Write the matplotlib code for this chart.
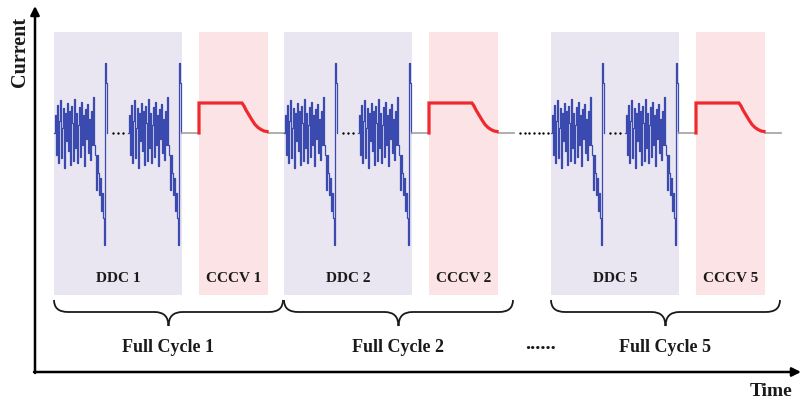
import matplotlib
matplotlib.use("Agg")
import matplotlib.pyplot as plt
import numpy as np
from matplotlib.path import Path
from matplotlib.patches import PathPatch, Rectangle

plt.rcParams['font.family'] = ['Liberation Serif', 'DejaVu Serif']
plt.rcParams['font.weight'] = 'bold'

# one dynamic drive burst: current per time step (each DDC phase holds two of them)
ddc_burst = [0, 18, -22, 28, -30, 12, 33, -25, 5, 25, -35, 20, -8, 30, -18, 22, -32, 27, 10,
             -28, 34, -15, 20, -30, 8, 26, -24, 31, -12, 18, -33, 24, -6, 29, -20, 14, -27, 22,
             -12, 36, -12, -22, -57, -22, -40, -62, -45, -78, -60, -85, -112, 70, 50, 0]
# CCCV charge: time from phase start, current
cccv_t = [0, 0, 43, 45, 47, 50, 53, 56, 59, 62, 65, 68]
cccv_i = [0, 30, 30, 27, 23, 18, 13, 8.5, 5.5, 3.5, 2, 1.5]

cycle_names = ["1", "2", "5"]
cycle_start = [54, 284, 551]
ddc_len = 128
rest1 = 17
cccv_len = 69
rest2 = 16
burst_gap = 21

blue = '#3a4aae'
red = '#ee2a2e'
gray = '#a8a8a8'
lav = '#e9e5f1'
pink = '#fce3e6'
txt = '#1a1a1a'

fig = plt.figure(figsize=(8.04, 4.0), dpi=100)
ax = fig.add_axes([0, 0, 1, 1])
ax.set_xlim(0, 804)
ax.set_ylim(-267, 133)
ax.set_axis_off()

shade_lo, shade_hi = -162, 101
cycle_len = ddc_len + rest1 + cccv_len + rest2
nb = len(ddc_burst) - 1


def brace(x0, x1, top, mid, tip, r=14):
    xc = (x0 + x1) / 2
    verts = [(x0, top), (x0, mid), (x0 + r, mid),
             (xc - r, mid), (xc, mid), (xc, tip),
             (xc, mid), (xc + r, mid),
             (x1 - r, mid), (x1, mid), (x1, top)]
    codes = [Path.MOVETO, Path.CURVE3, Path.CURVE3,
             Path.LINETO, Path.CURVE3, Path.CURVE3,
             Path.CURVE3, Path.CURVE3,
             Path.LINETO, Path.CURVE3, Path.CURVE3]
    ax.add_patch(PathPatch(Path(verts, codes), fill=False, lw=1.3, color=txt))


for name, t0 in zip(cycle_names, cycle_start):
    tc = t0 + ddc_len + rest1
    ax.add_patch(Rectangle((t0, shade_lo), ddc_len, shade_hi - shade_lo, color=lav, lw=0, zorder=0))
    ax.add_patch(Rectangle((tc, shade_lo), cccv_len, shade_hi - shade_lo, color=pink, lw=0, zorder=0))

    # two bursts with dots between
    b1 = t0
    b2 = t0 + nb + burst_gap
    for b in (b1, b2):
        ax.step(b + np.arange(len(ddc_burst)), ddc_burst, where='post', color=blue, lw=0.9)
    dots = np.arange(b1 + nb + 6, b2 - 3, 5)
    ax.plot(dots, np.zeros(len(dots)), 'o', color='black', ms=1.7, mew=0)

    # rest periods
    ax.plot([t0 + ddc_len, tc], [0, 0], color=gray, lw=1.3)
    ax.plot([tc + cccv_len, t0 + cycle_len], [0, 0], color=gray, lw=1.3)
    ax.plot(tc + np.array(cccv_t), cccv_i, color=red, lw=2.3, solid_joinstyle='miter')

    ax.text(t0 + ddc_len / 2, -146, f"DDC {name}", ha='center', va='center', fontsize=11, color=txt)
    ax.text(tc + cccv_len / 2, -146, f"CCCV {name}", ha='center', va='center', fontsize=11, color=txt)
    brace(t0, t0 + cycle_len - 1, -167, -179, -193)
    ax.text(t0 + (cycle_len - 1) / 2, -214, f"Full Cycle {name}", ha='center', va='center',
            fontsize=13, color=txt)

# skipped cycles
g0 = cycle_start[1] + cycle_len
g1 = cycle_start[2]
gdots = np.linspace(g0 + 6, g1 - 3, 7)
ax.plot(gdots, np.zeros(len(gdots)), 'o', color='black', ms=1.7, mew=0)
ax.text((g0 + g1) / 2 + 8, -216, "......", ha='center', va='baseline', fontsize=15, color=txt)

# axes arrows
ax.annotate('', xy=(801, -239), xytext=(34, -239),
            arrowprops=dict(arrowstyle='-|>', lw=1.8, color='black', mutation_scale=13, shrinkA=0, shrinkB=0))
ax.annotate('', xy=(35, 127), xytext=(35, -240),
            arrowprops=dict(arrowstyle='-|>', lw=1.8, color='black', mutation_scale=13, shrinkA=0, shrinkB=0))
ax.text(771, -263, "Time", ha='center', va='baseline', fontsize=14, color=txt)
ax.text(20, 81, "Current", ha='center', va='center', rotation=90, fontsize=14.5, color=txt)

fig.savefig('out.png', dpi=100)
